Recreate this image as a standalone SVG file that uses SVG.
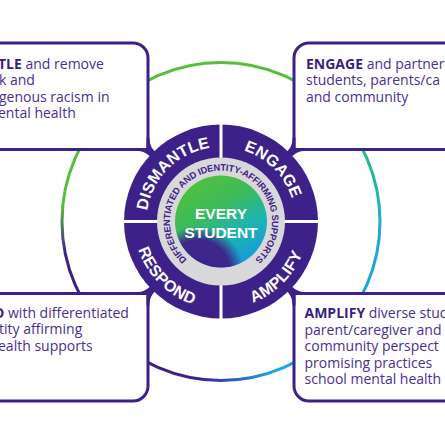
<svg xmlns="http://www.w3.org/2000/svg" width="445" height="445" viewBox="0 0 445 445">
<defs>
<style>
.box{fill:#fff;stroke:#3e2188;stroke-width:3;}
.jn{fill:#3e2188;}
.t{font-family:'Open Sans','Liberation Sans',sans-serif;font-size:14px;font-weight:500;fill:#4a2e93;}
.b{font-weight:700;fill:#3a1f80;}
.ring{font-family:'Liberation Sans',Arial,sans-serif;font-weight:700;font-size:16px;fill:#fff;letter-spacing:0.2px;}
.sub{font-family:'Liberation Sans',Arial,sans-serif;font-weight:700;font-size:9.3px;fill:#3e2188;letter-spacing:-0.2px;}
.ctr{font-family:'Liberation Sans',Arial,sans-serif;font-weight:700;font-size:15.5px;fill:#fff;}
.arc{fill:none;stroke-width:3;}
</style>
<linearGradient id="gL" gradientUnits="userSpaceOnUse" x1="0" y1="150" x2="0" y2="293">
<stop offset="0" stop-color="#55bf3a"/><stop offset="0.38" stop-color="#55bf3a"/><stop offset="0.73" stop-color="#3e2188"/><stop offset="1" stop-color="#3e2188"/>
</linearGradient>
<linearGradient id="gR" gradientUnits="userSpaceOnUse" x1="0" y1="150" x2="0" y2="293">
<stop offset="0" stop-color="#25bc8e"/><stop offset="0.3" stop-color="#1eb6b0"/><stop offset="0.6" stop-color="#1aa9dd"/><stop offset="1" stop-color="#1aa5e2"/>
</linearGradient>
<linearGradient id="gB" gradientUnits="userSpaceOnUse" x1="148" y1="0" x2="294" y2="0">
<stop offset="0" stop-color="#3e2188"/><stop offset="0.35" stop-color="#3e2188"/><stop offset="0.6" stop-color="#2a5fc0"/><stop offset="0.85" stop-color="#1aa8e2"/><stop offset="1" stop-color="#1aa8e2"/>
</linearGradient>
<linearGradient id="cg" x1="0.3" y1="0" x2="0.85" y2="0.95">
<stop offset="0" stop-color="#52c03e"/><stop offset="0.35" stop-color="#3dba5c"/><stop offset="0.65" stop-color="#1db4b0"/><stop offset="1" stop-color="#1598e0"/>
</linearGradient>
<radialGradient id="cp" cx="0.25" cy="1.05" r="0.5">
<stop offset="0" stop-color="#3e2188" stop-opacity="1"/><stop offset="0.7" stop-color="#3e2188" stop-opacity="0.95"/><stop offset="1" stop-color="#3e2188" stop-opacity="0"/>
</radialGradient>
<path id="pTop" d="M221 296 A74.5 74.5 0 1 1 221 147 A74.5 74.5 0 1 1 221 296"/>
<path id="pBot" d="M221 134 A87.5 87.5 0 1 0 221 309 A87.5 87.5 0 1 0 221 134"/>
<path id="pSub" d="M221 272.5 A51 51 0 1 1 221 170.5 A51 51 0 1 1 221 272.5"/>
<path id="jn" d="M-71.5 -84 C-71.5 -77 -69.5 -73.5 -66 -69.95 L-58 -61.95 L-62.95 -57 L-70.95 -65 C-74.5 -68.5 -78 -70.5 -85 -70.5 L-85 -73.5 L-74.5 -73.5 L-74.5 -84 Z"/>
</defs>
<rect width="445" height="445" fill="#fff"/>
<g id="connectors">
<path class="arc" stroke="#55bf3a" d="M108.57 109.07 A159 159 0 0 1 333.43 109.07"/>
<path class="arc" stroke="url(#gR)" d="M333.43 109.07 A159 159 0 0 1 333.43 333.93"/>
<path class="arc" stroke="url(#gB)" d="M333.43 333.93 A159 159 0 0 1 108.57 333.93"/>
<path class="arc" stroke="url(#gL)" d="M108.57 333.93 A159 159 0 0 1 108.57 109.07"/>
</g>
<g id="box-dismantle">
<path class="box" d="M-10 43 H133 A15 15 0 0 1 148 58 V149.5 H-10 Z"/>
<text class="t" x="-2" y="69"><tspan class="b">TLE</tspan> and remove</text>
<text class="t" x="-1" y="85.4">k and</text>
<text class="t" x="-1" y="101.8">genous racism in</text>
<text class="t" x="-2" y="118.2">ental health</text>
</g>
<g id="box-engage">
<path class="box" d="M455 43 H309 A15 15 0 0 0 294 58 V149.5 H455 Z"/>
<text class="t" x="306" y="69"><tspan class="b">ENGAGE</tspan> and partner</text>
<text class="t" x="306" y="85.4">students, parents/ca</text>
<text class="t" x="306" y="101.8">and community</text>
</g>
<g id="box-respond">
<path class="box" d="M-10 293.5 H148 V386 A15 15 0 0 1 133 401 H-10 Z"/>
<text class="t" x="-6" y="318"><tspan class="b">D</tspan> with differentiated</text>
<text class="t" x="-1" y="334.4">tity affirming</text>
<text class="t" x="-2" y="350.8">ealth supports</text>
</g>
<g id="box-amplify">
<path class="box" d="M455 293.5 H294 V386 A15 15 0 0 0 309 401 H455 Z"/>
<text class="t" x="304.5" y="318.3"><tspan class="b">AMPLIFY</tspan> diverse stud</text>
<text class="t" x="304.5" y="334.7">parent/caregiver and</text>
<text class="t" x="304.5" y="351.1">community perspect</text>
<text class="t" x="304.5" y="367.5">promising practices</text>
<text class="t" x="304.5" y="383.9">school mental health</text>
</g>
<g id="junctions">
<use href="#jn" class="jn" transform="translate(221 221.5)"/>
<use href="#jn" class="jn" transform="translate(221 221.5) scale(-1 1)"/>
<use href="#jn" class="jn" transform="translate(221 221.5) scale(1 -1)"/>
<use href="#jn" class="jn" transform="translate(221 221.5) scale(-1 -1)"/>
</g>
<g id="hub">
<circle cx="221" cy="221.5" r="97" fill="#3e2188"/>
<line x1="221" y1="122" x2="221" y2="321" stroke="#fff" stroke-width="3"/>
<line x1="122" y1="221.5" x2="320" y2="221.5" stroke="#fff" stroke-width="3"/>
<circle cx="221" cy="221.5" r="64" fill="#d8d8da"/>
<circle cx="221" cy="221.5" r="46" fill="url(#cg)"/>
<circle cx="221" cy="221.5" r="46" fill="url(#cp)"/>
<text class="ring" text-anchor="middle"><textPath href="#pTop" startOffset="37.5%">DISMANTLE</textPath></text>
<text class="ring" text-anchor="middle"><textPath href="#pTop" startOffset="62.5%">ENGAGE</textPath></text>
<text class="ring" text-anchor="middle"><textPath href="#pBot" startOffset="37.5%">RESPOND</textPath></text>
<text class="ring" text-anchor="middle"><textPath href="#pBot" startOffset="62.5%">AMPLIFY</textPath></text>
<text class="sub" text-anchor="middle"><textPath href="#pSub" startOffset="50%">DIFFERENTIATED AND IDENTITY-AFFIRMING SUPPORTS</textPath></text>
<text class="ctr" text-anchor="middle" x="221" y="219">EVERY</text>
<text class="ctr" text-anchor="middle" x="221" y="237.5">STUDENT</text>
</g>
</svg>
